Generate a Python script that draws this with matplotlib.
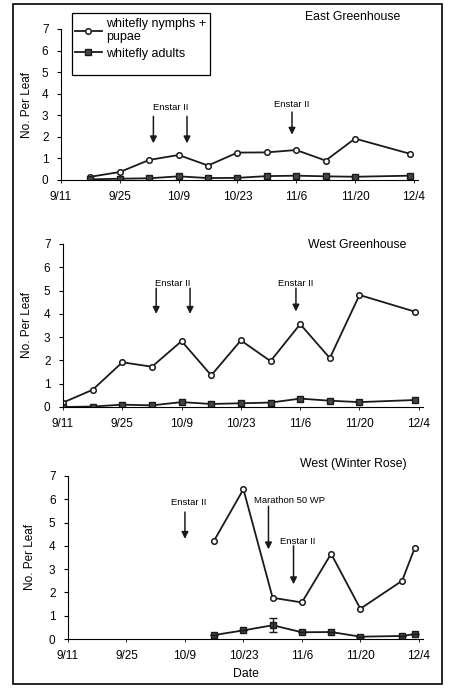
import datetime as dt
import numpy as np
import matplotlib
matplotlib.use("Agg")
import matplotlib.pyplot as plt
from matplotlib.patches import Rectangle

plt.rcParams['font.family'] = ['Liberation Sans', 'DejaVu Sans']

# sampling dates and counts per leaf
east_dates = ["9/18", "9/25", "10/2", "10/9", "10/16", "10/23", "10/30", "11/6", "11/13", "11/20", "12/3"]
east_nymphs = [0.15, 0.37, 0.93, 1.16, 0.67, 1.27, 1.28, 1.39, 0.90, 1.92, 1.22]
east_adults = [0.03, 0.06, 0.08, 0.17, 0.09, 0.10, 0.18, 0.20, 0.17, 0.15, 0.20]

west_dates = ["9/11", "9/18", "9/25", "10/2", "10/9", "10/16", "10/23", "10/30", "11/6", "11/13", "11/20", "12/3"]
west_nymphs = [0.19, 0.74, 1.92, 1.73, 2.83, 1.36, 2.86, 1.97, 3.56, 2.10, 4.81, 4.10]
west_adults = [0.00, 0.02, 0.10, 0.07, 0.21, 0.13, 0.16, 0.19, 0.36, 0.27, 0.21, 0.30]

rose_dates = ["10/16", "10/23", "10/30", "11/6", "11/13", "11/20", "11/30", "12/3"]
rose_nymphs = [4.23, 6.43, 1.77, 1.57, 3.66, 1.30, 2.50, 3.90]
rose_adults = [0.17, 0.37, 0.59, 0.29, 0.30, 0.10, 0.13, 0.21]
rose_adults_err = [0, 0, 0.30, 0, 0, 0, 0, 0]

tick_labels = ["9/11", "9/25", "10/9", "10/23", "11/6", "11/20", "12/4"]

# treatments: (date, arrow top, arrow tip)
east_sprays = [("10/3", 2.95, 1.70), ("10/11", 2.95, 1.70), ("11/5", 3.15, 2.10)]
west_sprays = [("10/3", 5.1, 4.0), ("10/11", 5.1, 4.0), ("11/5", 5.1, 4.1)]
rose_sprays = [("10/9", 5.45, 4.3), ("10/29", 5.7, 3.85), ("11/4", 4.0, 2.35)]

start = dt.date(2000, 9, 11)


def days(lst):
    out = []
    for s in lst:
        m, d = s.split("/")
        out.append((dt.date(2000, int(m), int(d)) - start).days)
    return np.array(out)


W, H = 458, 698
fig = plt.figure(figsize=(W / 100, H / 100), dpi=100)
fig.patches.append(Rectangle((13 / W, 1 - 684 / H), 429 / W, 680 / H,
                             transform=fig.transFigure, fill=False,
                             edgecolor="black", linewidth=1.2))

col = "#1a1a1a"


def panel(px_left, px_right, px_top, px_bottom, dates, nym, adu, title, title_xy,
          ylab_x, err=None):
    ax = fig.add_axes([px_left / W, 1 - px_bottom / H, (px_right - px_left) / W,
                       (px_bottom - px_top) / H])
    x = days(dates)
    l1, = ax.plot(x, nym, color=col, lw=1.3, marker="o", ms=4, mfc="white",
                  mec=col, mew=1.1, label="whitefly nymphs +\npupae")
    l2, = ax.plot(x, adu, color=col, lw=1.3, marker="s", ms=4.5, mfc="#444444",
                  mec=col, label="whitefly adults")
    if err is not None:
        ax.errorbar(x, adu, yerr=err, fmt="none", ecolor=col, elinewidth=1,
                    capsize=3)
    ax.set_xlim(0, 85)
    ax.set_ylim(0, 7)
    ax.set_xticks(np.arange(0, 85, 14))
    ax.set_xticklabels(tick_labels, fontsize=8.5)
    ax.set_yticks(range(8))
    ax.tick_params(axis="y", labelsize=8.5, length=3, width=0.8, pad=6)
    ax.tick_params(axis="x", length=2, width=0.6, pad=6)
    for s in ["top", "right"]:
        ax.spines[s].set_visible(False)
    ax.spines["left"].set_linewidth(0.8)
    ax.spines["bottom"].set_linewidth(0.8)
    ax.set_ylabel("No. Per Leaf", fontsize=8.5)
    ax.yaxis.set_label_coords((ylab_x - px_left) / (px_right - px_left), 0.5)
    ax.yaxis.label.set_va("center")
    fig.text(title_xy[0] / W, 1 - title_xy[1] / H, title, fontsize=8.8,
             ha="center", va="center")
    return ax, l1, l2


def spray(ax, items, texts):
    for d, top, tip in items:
        xd = days([d])[0]
        ax.annotate("", xy=(xd, tip), xytext=(xd, top),
                    arrowprops=dict(arrowstyle="-|>", color=col, lw=1.1,
                                    mutation_scale=10, shrinkA=0, shrinkB=0))
    for t, d, yv in texts:
        ax.text(days([d])[0], yv, t, fontsize=6.8, ha="center", va="center")


ax1, l1, l2 = panel(61, 418, 29, 180, east_dates, east_nymphs, east_adults,
                    "East Greenhouse", (353, 17), 27)
spray(ax1, east_sprays, [("Enstar II", "10/7", 3.35), ("Enstar II", "11/5", 3.5)])
fig.patches.append(Rectangle((72 / W, 1 - 75 / H), 138 / W, 62 / H,
                             transform=fig.transFigure, fill=False,
                             edgecolor="black", linewidth=0.9))
fig.legend([l1, l2], ["whitefly nymphs +\npupae", "whitefly adults"],
           loc="upper left", bbox_to_anchor=(72 / W, 1 - 15 / H),
           fontsize=9, frameon=False,
           handlelength=2.2, borderpad=0.2, labelspacing=0.35,
           handletextpad=0.3, borderaxespad=0)

ax2, _, _ = panel(63, 423, 244, 407, west_dates, west_nymphs, west_adults,
                  "West Greenhouse", (357, 245), 27)
spray(ax2, west_sprays, [("Enstar II", "10/7", 5.32), ("Enstar II", "11/5", 5.32)])

ax3, _, _ = panel(68, 423, 476, 639, rose_dates, rose_nymphs, rose_adults,
                  "West (Winter Rose)", (353, 464), 30, err=rose_adults_err)
spray(ax3, rose_sprays, [("Enstar II", "10/10", 5.86), ("Marathon 50 WP", "11/3", 5.93),
                         ("Enstar II", "11/5", 4.2)])
ax3.set_xlabel("Date", fontsize=8.8, labelpad=4)

fig.savefig("out.png", dpi=100)
